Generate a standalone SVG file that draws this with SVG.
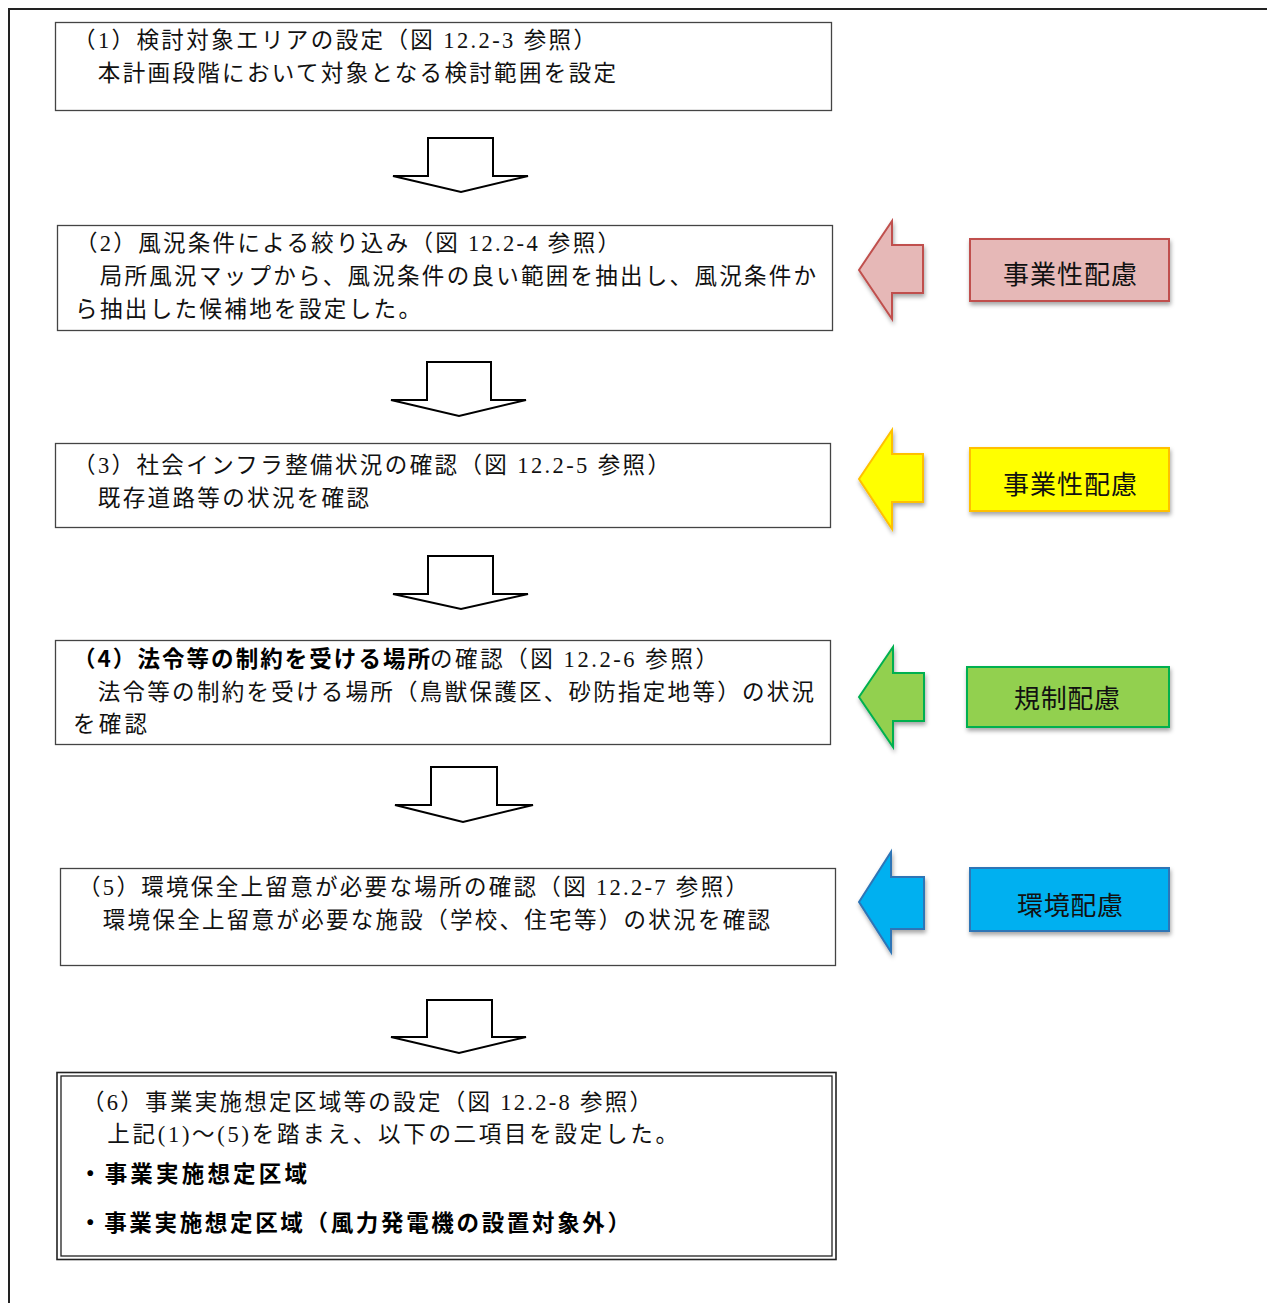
<svg xmlns="http://www.w3.org/2000/svg" width="1267" height="1303" viewBox="0 0 1267 1303">
<defs>
<filter id="sh" x="-20%" y="-20%" width="140%" height="150%">
<feDropShadow dx="1" dy="3" stdDeviation="2" flood-color="#000" flood-opacity="0.35"/>
</filter>
</defs>
<style>
.box{fill:#fff;stroke:#444;stroke-width:1.3}
.t{font-family:"Liberation Serif","Noto Sans CJK JP",serif;font-size:22.5px;fill:#111}
.b{font-family:"Noto Sans CJK JP",sans-serif;font-size:22.5px;font-weight:bold;fill:#000}
.down{fill:#fff;stroke:#000;stroke-width:2;stroke-linejoin:miter}
.lab{font-family:"Noto Sans CJK JP",sans-serif;font-size:26px;fill:#111}
.red{fill:#E6B8B7;stroke:#C0504D;stroke-width:2}
.yel{fill:#FFFF00;stroke:#FFC000;stroke-width:2}
.grn{fill:#92D050;stroke:#00B050;stroke-width:2}
.blu{fill:#00B0F0;stroke:#2E75B6;stroke-width:2}
</style>
<rect width="1267" height="1303" fill="#fff"/>
<path d="M9,1303 V9 H1267" fill="none" stroke="#222" stroke-width="2"/>

<g id="step1">
<rect class="box" x="55.5" y="22.5" width="776" height="88"/>
<text class="t" x="73" y="48" textLength="523" lengthAdjust="spacing">（1）検討対象エリアの設定（図 12.2-3 参照）</text>
<text class="t" x="73" y="81" textLength="543" lengthAdjust="spacing">　本計画段階において対象となる検討範囲を設定</text>
</g>

<g id="step2">
<rect class="box" x="57.5" y="225.5" width="775" height="105"/>
<text class="t" x="75" y="251" textLength="545" lengthAdjust="spacing">（2）風況条件による絞り込み（図 12.2-4 参照）</text>
<text class="t" x="75" y="284" textLength="741" lengthAdjust="spacing">　局所風況マップから、風況条件の良い範囲を抽出し、風況条件か</text>
<text class="t" x="75" y="317" textLength="346" lengthAdjust="spacing">ら抽出した候補地を設定した。</text>
</g>

<g id="step3">
<rect class="box" x="55.5" y="443.5" width="775" height="84"/>
<text class="t" x="73" y="473" textLength="597" lengthAdjust="spacing">（3）社会インフラ整備状況の確認（図 12.2-5 参照）</text>
<text class="t" x="73" y="506" textLength="296" lengthAdjust="spacing">　既存道路等の状況を確認</text>
</g>

<g id="step4">
<rect class="box" x="55.5" y="640.5" width="775" height="104"/>
<text class="b" x="73" y="667" textLength="357" lengthAdjust="spacing">（4）法令等の制約を受ける場所</text>
<text class="t" x="430" y="667" textLength="288" lengthAdjust="spacing">の確認（図 12.2-6 参照）</text>
<text class="t" x="73" y="700" textLength="741" lengthAdjust="spacing">　法令等の制約を受ける場所（鳥獣保護区、砂防指定地等）の状況</text>
<text class="t" x="73" y="732" textLength="74" lengthAdjust="spacing">を確認</text>
</g>

<g id="step5">
<rect class="box" x="60.5" y="868.5" width="775" height="97"/>
<text class="t" x="78" y="895" textLength="670" lengthAdjust="spacing">（5）環境保全上留意が必要な場所の確認（図 12.2-7 参照）</text>
<text class="t" x="78" y="928" textLength="692" lengthAdjust="spacing">　環境保全上留意が必要な施設（学校、住宅等）の状況を確認</text>
</g>

<g id="step6">
<rect x="57" y="1072.5" width="779" height="187" fill="#fff" stroke="#222" stroke-width="1.6"/>
<rect x="61" y="1076" width="771" height="180" fill="none" stroke="#222" stroke-width="1.3"/>
<text class="t" x="82" y="1110" textLength="570" lengthAdjust="spacing">（6）事業実施想定区域等の設定（図 12.2-8 参照）</text>
<text class="t" x="82" y="1142" textLength="596" lengthAdjust="spacing">　上記(1)～(5)を踏まえ、以下の二項目を設定した。</text>
<text class="b" x="79" y="1182" textLength="228" lengthAdjust="spacing">・事業実施想定区域</text>
<text class="b" x="79" y="1231" textLength="551" lengthAdjust="spacing">・事業実施想定区域（風力発電機の設置対象外）</text>
</g>

<g id="note-red">
<rect class="red" x="970" y="239" width="199" height="62" filter="url(#sh)"/>
<text class="lab" x="1003" y="284" textLength="134" lengthAdjust="spacing">事業性配慮</text>
</g>
<g id="note-yellow">
<rect class="yel" x="970" y="448" width="199" height="63" filter="url(#sh)"/>
<text class="lab" x="1003" y="494" textLength="134" lengthAdjust="spacing">事業性配慮</text>
</g>
<g id="note-green">
<rect class="grn" x="967" y="667" width="202" height="60" filter="url(#sh)"/>
<text class="lab" x="1014" y="708" textLength="106" lengthAdjust="spacing">規制配慮</text>
</g>
<g id="note-blue">
<rect class="blu" x="970" y="868" width="199" height="63" filter="url(#sh)"/>
<text class="lab" x="1017" y="915" textLength="106" lengthAdjust="spacing">環境配慮</text>
</g>

<g id="connectors">
<path class="down" d="M428,138 H493 V176 H528 L461,192 L393,176 H428 Z"/>
<path class="down" d="M427,362 H491 V400 H526 L459,416 L391,400 H427 Z"/>
<path class="down" d="M428,556 H493 V594 H528 L461,609 L393,594 H428 Z"/>
<path class="down" d="M431,767 H497 V805 H533 L463,822 L395,805 H431 Z"/>
<path class="down" d="M427,1000 H492 V1037 H526 L459,1053 L391,1037 H427 Z"/>
<path class="red" filter="url(#sh)" d="M859,270 L892,221 V245 H923 V293 H892 V319 Z"/>
<path class="yel" filter="url(#sh)" d="M859,479 L892,430 V454 H923 V502 H892 V529 Z"/>
<path class="grn" filter="url(#sh)" d="M859,697 L893,647 V673 H924 V721 H893 V747 Z"/>
<path class="blu" filter="url(#sh)" d="M859,902 L891,852 V877 H924 V929 H891 V952 Z"/>
</g>
</svg>
